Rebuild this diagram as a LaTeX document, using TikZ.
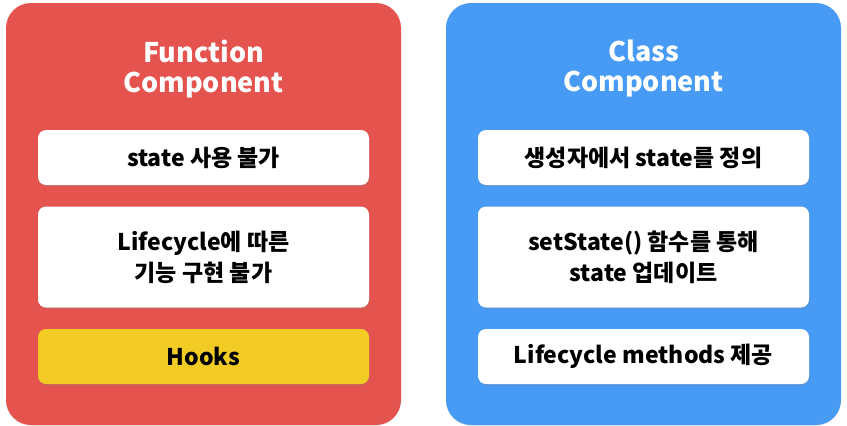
\documentclass[tikz,border=0pt]{standalone}
\usepackage{fontspec}
\setmainfont{Noto Sans CJK KR}
\usetikzlibrary{shadows}
\definecolor{panelred}{RGB}{229,83,79}
\definecolor{panelblue}{RGB}{72,155,245}
\definecolor{hookyellow}{RGB}{242,204,36}
\tikzset{
  panel/.style={rectangle, rounded corners=25pt, minimum width=395pt, minimum height=422pt, inner sep=0pt,
    drop shadow={shadow xshift=0pt, shadow yshift=-1pt, opacity=0.15}},
  title/.style={text=white, font=\bfseries\fontsize{27}{30}\selectfont, align=center},
  itembox/.style={rectangle, rounded corners=8pt, minimum width=331pt, inner sep=0pt, fill=white,
    font=\bfseries\fontsize{23}{31}\selectfont, align=center, text=black,
    drop shadow={shadow xshift=0.5pt, shadow yshift=-1.5pt, opacity=0.25}},
}
\begin{document}
\begin{tikzpicture}[x=1pt,y=-1pt]
\useasboundingbox[fill=white] (0,0) rectangle (847,426);
% left panel
\node[panel, fill=panelred] (fpanel) at (203.5,214) {};
\node[title] (ftitle) at (203.5,69) {Function\\Component};
\node[itembox, minimum height=55pt] (f1) at (203.5,157.5) {state 사용 불가};
\node[itembox, minimum height=101pt] (f2) at (203.5,257) {Lifecycle에 따른\\기능 구현 불가};
\node[itembox, minimum height=55pt, fill=hookyellow] (f3) at (203.5,356.5) {Hooks};
% right panel
\node[panel, fill=panelblue] (cpanel) at (643.5,214) {};
\node[title] (ctitle) at (643.5,69) {Class\\Component};
\node[itembox, minimum height=55pt] (c1) at (643.5,157.5) {생성자에서 state를 정의};
\node[itembox, minimum height=101pt] (c2) at (643.5,257) {setState() 함수를 통해\\state 업데이트};
\node[itembox, minimum height=55pt] (c3) at (643.5,356.5) {Lifecycle methods 제공};
\end{tikzpicture}
\end{document}
